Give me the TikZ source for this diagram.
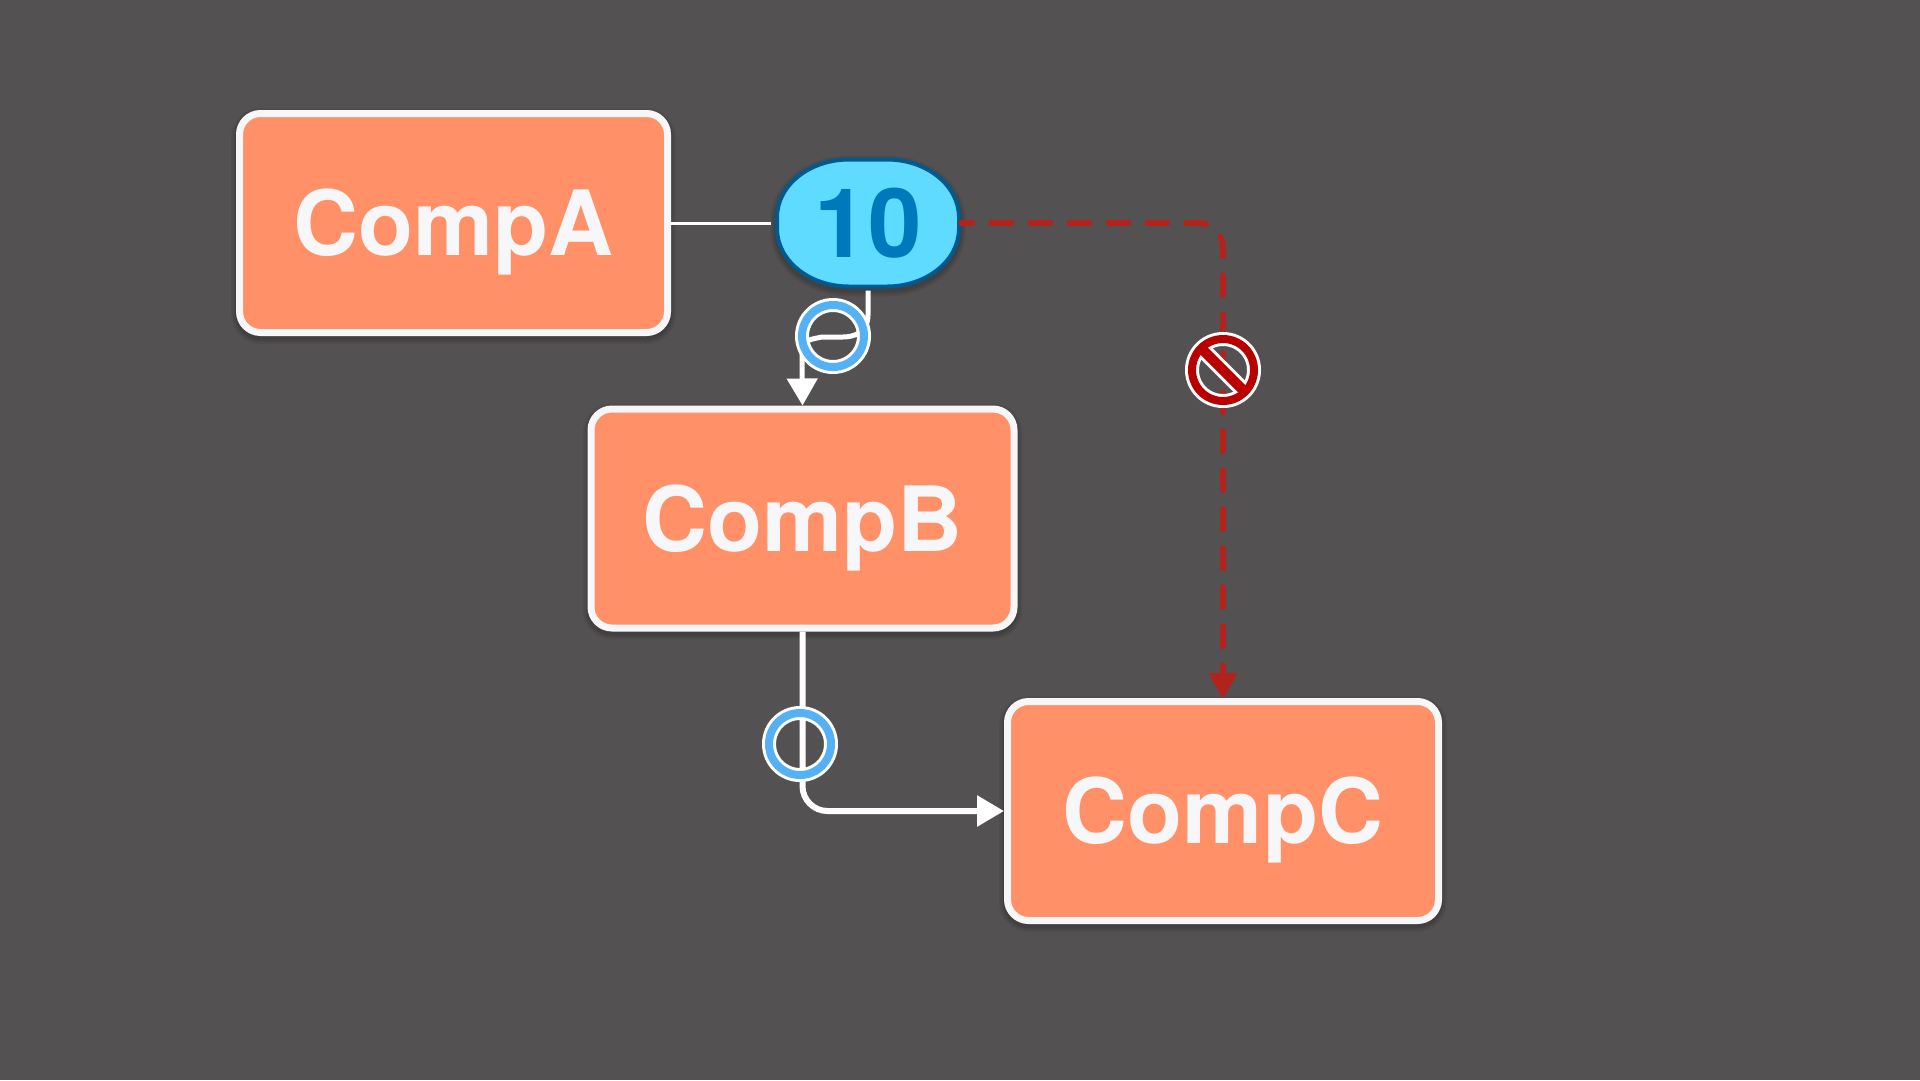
\documentclass[tikz,border=0pt]{standalone}
\usepackage{fontspec}
\setmainfont{TeX Gyre Heros}
\usetikzlibrary{arrows.meta}
\definecolor{bgc}{HTML}{545152}
\definecolor{boxfill}{HTML}{FF9068}
\definecolor{boxline}{HTML}{F7F7FA}
\definecolor{pillfill}{HTML}{5FDBFF}
\definecolor{pillline}{HTML}{005A8E}
\definecolor{pilltext}{HTML}{0079BC}
\definecolor{ringblue}{HTML}{54B1F6}
\definecolor{ringred}{HTML}{B80000}
\definecolor{dashred}{HTML}{B3231E}
\tikzset{
  softshadow/.style={
    preaction={draw=black,draw opacity=.05,line width=#1+10pt,transform canvas={yshift=-3pt}},
    preaction={draw=black,draw opacity=.07,line width=#1+6pt,transform canvas={yshift=-3pt}},
    preaction={draw=black,draw opacity=.09,line width=#1+2pt,transform canvas={yshift=-3pt}}},
  compbox/.style={softshadow=7pt,rectangle,rounded corners=21pt,draw=boxline,fill=boxfill,line width=7pt,
    minimum height=219pt,inner sep=0pt,text=boxline,text height=65pt,text depth=0pt,
    font=\fontsize{90pt}{90pt}\selectfont\bfseries},
  countpill/.style={rectangle,outer sep=2pt,
    minimum width=182pt,minimum height=127pt,inner sep=0pt,text=pilltext,text height=69pt,text depth=0pt,
    font=\fontsize{96pt}{96pt}\selectfont\bfseries},
  pillshape/.style={softshadow=4pt,draw=pillline,fill=pillfill,line width=4pt},
  statusring/.style={circle,minimum size=62pt,inner sep=0pt,outer sep=0pt,draw=white,line width=3pt,
    double distance=8pt},
  flowline/.style={draw=white,-{Triangle[width=30pt,length=27pt]}},
  blocked/.style={draw=dashred,line width=6pt,line cap=round,
    dash pattern=on 20pt off 19pt,dash phase=8.5pt,rounded corners=25pt,
    -{Triangle[width=29pt,length=26pt,round,line width=2pt]}}
}
\begin{document}
\begin{tikzpicture}[x=1pt,y=-1pt]
\useasboundingbox (0,0) rectangle (1920,1080);
\fill[bgc] (0,0) rectangle (1920,1080);
\node[compbox,minimum width=428pt] (a) at (453.5,223) {CompA};
\node[compbox,minimum width=423pt] (b) at (802.5,518.5) {CompB};
\node[compbox,minimum width=431pt] (c) at (1223,811) {CompC};
% elliptical-cornered pill body, then its label node on top (y axis points down)
\path[pillshape] (868-19,223-63.5) -- (868+19,223-63.5)
  arc[start angle=270,end angle=360,x radius=72,y radius=58] -- (868+91,223+5.5)
  arc[start angle=0,end angle=90,x radius=72,y radius=58] -- (868-19,223+63.5)
  arc[start angle=90,end angle=180,x radius=72,y radius=58] -- (868-91,223-5.5)
  arc[start angle=180,end angle=270,x radius=72,y radius=58] -- cycle;
\node[countpill] (pill) at (868,223) {10};
\coordinate (s1) at (868,315);
\coordinate (s2) at (868,333);
\coordinate (s3) at (853,337);
\coordinate (s4) at (822,337);
\coordinate (s5) at (802,341);
\coordinate (s6) at (802,360);
\draw[white,line width=3pt,shorten >=4pt] (a.east) -- (pill.west);
\draw[flowline,line width=5pt,shorten <=2pt] (pill.south) -- (s1) .. controls (s2) and (s3) .. (843,337) -- (s4) .. controls (s5) .. (s6) -- (b.north);
\draw[flowline,line width=6pt,rounded corners=25pt] (b.south) |- (c.west);
\draw[blocked] (pill.east) -| (c.north);
\node[statusring,double=ringblue] (r1) at (833,336) {};
\node[statusring,double=ringblue] (r2) at (800,744) {};
\draw[white,line width=16pt] (1205,352) -- (1241,388);
\node[statusring,double=ringred] (r3) at (1223,370) {};
\draw[ringred,line width=10pt] (r3.north west) -- (r3.south east);
\end{tikzpicture}
\end{document}
